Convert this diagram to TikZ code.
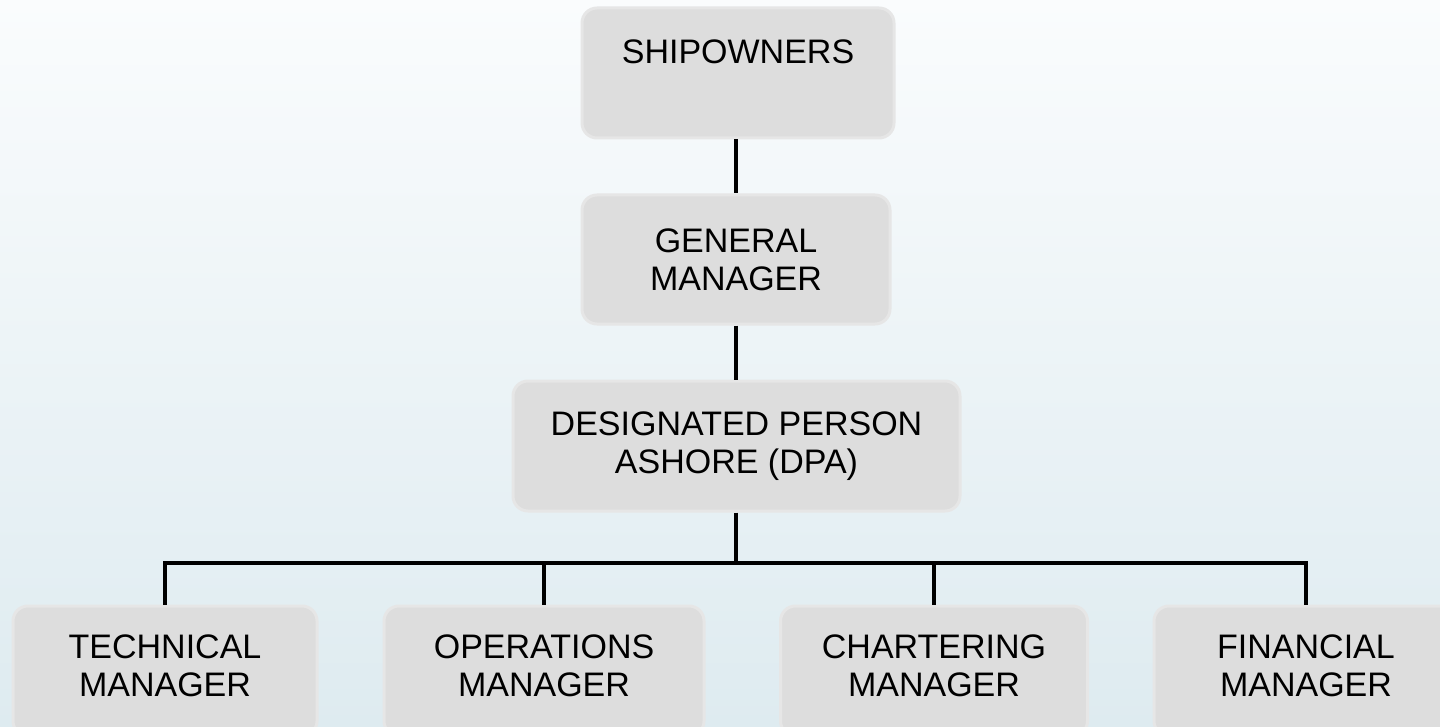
\documentclass[tikz,border=0pt]{standalone}
\usepackage{fontspec}
\setmainfont{Liberation Sans}
\begin{document}
\begin{tikzpicture}[x=0.5pt,y=-0.5pt,
  orgbox/.style={draw=boxedge, fill=boxfill, line width=1.5pt,
    rounded corners=7.5pt, align=center, inner sep=0pt,
    font=\fontsize{17pt}{19pt}\selectfont},
  link/.style={line width=2pt, black}]
\definecolor{boxfill}{HTML}{DDDDDD}
\definecolor{boxedge}{HTML}{E6E6E6}
\definecolor{bgtop}{HTML}{FAFCFD}
\definecolor{bgbottom}{HTML}{DEEBF0}

% page frame and background
\useasboundingbox (0,0) rectangle (1440,727);
\clip (0,0) rectangle (1440,727);
\shade[top color=bgtop, bottom color=bgbottom] (0,0) rectangle (1440,727);

% top chain
\node[orgbox, minimum width=156pt, minimum height=65pt, text depth=21pt]
  (ship) at (738,73) {SHIPOWNERS};
\node[orgbox, minimum width=154pt, minimum height=64.5pt]
  (gm) at (736,259.5) {GENERAL\\MANAGER};
\node[orgbox, minimum width=223.5pt, minimum height=65pt]
  (dpa) at (736.5,446) {DESIGNATED PERSON\\ASHORE (DPA)};

% department managers
\node[orgbox, minimum width=152pt, minimum height=65pt, text depth=5pt]
  (tech) at (165,671) {TECHNICAL\\MANAGER};
\node[orgbox, minimum width=160pt, minimum height=65pt, text depth=5pt]
  (ops) at (544,671) {OPERATIONS\\MANAGER};
\node[orgbox, minimum width=153.5pt, minimum height=65pt, text depth=5pt]
  (chart) at (934,671) {CHARTERING\\MANAGER};
\node[orgbox, minimum width=152pt, minimum height=65pt, text depth=5pt]
  (fin) at (1306,671) {FINANCIAL\\MANAGER};

% connectors
\coordinate (bus) at (736,563);
\draw[link] (ship.south -| gm.north) -- (gm.north);
\draw[link] (gm.south) -- (dpa.north -| gm.south);
\draw[link] (dpa.south -| bus) -- (bus);
\draw[link] (tech.north) |- (bus) -| (fin.north);
\draw[link] (ops.north) -- (ops.north |- bus);
\draw[link] (chart.north) -- (chart.north |- bus);
\end{tikzpicture}
\end{document}
